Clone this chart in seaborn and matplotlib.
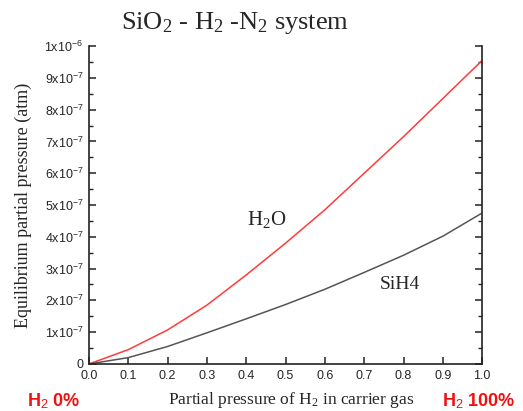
import numpy as np
import pandas as pd
import matplotlib
matplotlib.use("Agg")
import matplotlib.pyplot as plt
import seaborn as sns
from matplotlib.ticker import MultipleLocator, FixedLocator

# values (x1e-7 atm)
h2_fraction = [0.0, 0.1, 0.2, 0.3, 0.4, 0.5, 0.6, 0.7, 0.8, 0.9, 1.0]
h2o_pressure = [0.0, 0.45, 1.07, 1.85, 2.8, 3.8, 4.85, 6.0, 7.15, 8.35, 9.55]
sih4_pressure = [0.0, 0.2, 0.55, 0.98, 1.42, 1.87, 2.35, 2.88, 3.42, 4.02, 4.75]
y_ticks = [0, 1, 2, 3, 4, 5, 6, 7, 8, 9, 10]
y_tick_labels = ['0'] + [r'$\mathsf{%dx10^{-7}}$' % i for i in range(1, 10)] + [r'$\mathsf{1x10^{-6}}$']

df = pd.DataFrame({
    'x': h2_fraction * 2,
    'p': [v * 1e-7 for v in h2o_pressure + sih4_pressure],
    'species': ['H2O'] * len(h2_fraction) + ['SiH4'] * len(h2_fraction),
})

sns.set_style("ticks")
plt.rcParams['font.family'] = ['Liberation Sans', 'DejaVu Sans']
plt.rcParams['mathtext.fontset'] = 'custom'
plt.rcParams['mathtext.rm'] = 'Liberation Serif'
plt.rcParams['mathtext.sf'] = 'Liberation Sans'
plt.rcParams['mathtext.it'] = 'Liberation Serif:italic'

fig = plt.figure(figsize=(5.23, 4.11), dpi=100)
ax = fig.add_axes([0.170, 0.1144, 0.752, 0.7736])

sns.lineplot(data=df, x='x', y='p', hue='species',
             palette={'H2O': '#ff3b3b', 'SiH4': '#555555'},
             linewidth=1.1, legend=False, ax=ax)

ax.set_xlim(0, 1.0)
ax.set_ylim(0, 1e-6)
ax.xaxis.set_major_locator(MultipleLocator(0.1))
ax.xaxis.set_major_formatter(matplotlib.ticker.FormatStrFormatter('%.1f'))
ax.yaxis.set_major_locator(FixedLocator([t * 1e-7 for t in y_ticks]))
ax.set_yticklabels(y_tick_labels)
ax.yaxis.set_minor_locator(MultipleLocator(0.5e-7))

ax.spines['top'].set_visible(False)
for s in ['left', 'right', 'bottom']:
    ax.spines[s].set_linewidth(1.2)
    ax.spines[s].set_color('#222222')
ax.tick_params(axis='both', which='major', direction='in', length=5, width=1.1,
               labelsize=9, color='#222222', pad=4)
ax.tick_params(axis='y', which='minor', direction='in', length=3, width=1.0, color='#222222')
ax.tick_params(axis='y', which='both', right=True, labelright=False)
ax.tick_params(axis='x', which='both', top=False)

ax.set_xlabel('')
ax.set_ylabel('Equilibrium partial pressure (atm)', family='Liberation Serif',
              fontsize=13, labelpad=9)

fig.text(0.556, 0.027, r'Partial pressure of H$_\mathrm{2}$ in carrier gas',
         family='Liberation Serif', fontsize=12.5, ha='center', va='center')

fig.text(0.45, 0.945, r'SiO$_\mathrm{2}$ - H$_\mathrm{2}$ -N$_\mathrm{2}$ system',
         family='Liberation Serif', fontsize=19, ha='center', va='center')

ax.text(0.453, 4.54e-7, r'H$_\mathrm{2}$O', family='Liberation Serif',
        fontsize=15, ha='center', va='center')
ax.text(0.79, 2.49e-7, 'SiH4', family='Liberation Serif',
        fontsize=14, ha='center', va='center')

fig.text(0.052, 0.025, r'H$_\mathsf{2}$ 0%', color='#ee1111', fontsize=13,
         fontweight='bold', ha='left', va='center')
fig.text(0.985, 0.025, r'H$_\mathsf{2}$ 100%', color='#ee1111', fontsize=13,
         fontweight='bold', ha='right', va='center')

fig.savefig('out.png', dpi=100)
